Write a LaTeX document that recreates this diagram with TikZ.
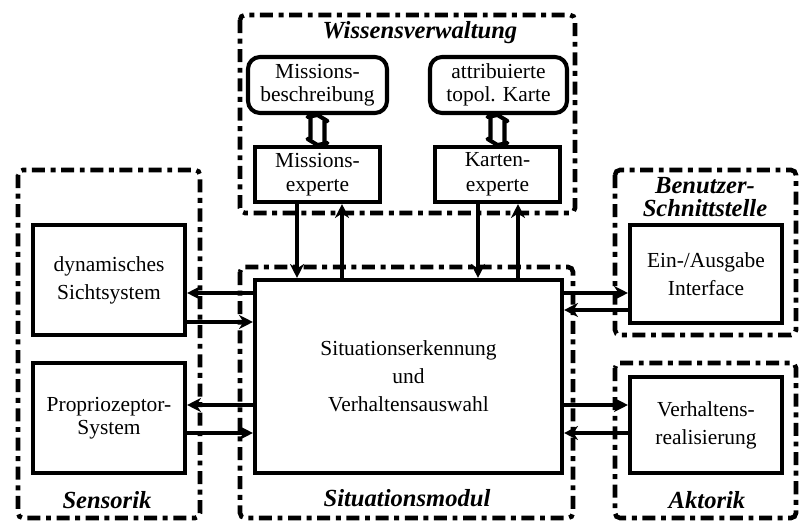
\documentclass[tikz,border=0pt]{standalone}
\usepackage{fontspec}
\setmainfont{Liberation Serif}
\usetikzlibrary{arrows.meta}
\begin{document}
\begin{tikzpicture}[x=0.2mm,y=-0.2mm,
  box/.style={draw, line width=2.3pt, align=center, inner sep=0pt, font=\fontsize{12.2}{15}\selectfont},
  rbox/.style={box, rounded corners=2.4mm},
  group/.style={draw, line width=2.6pt, rounded corners=1mm, dash pattern=on 7.4pt off 3.2pt on 2.8pt off 3.2pt},
  title/.style={font=\fontsize{14}{13}\selectfont\bfseries\itshape, align=center, inner sep=0pt},
  arr/.style={line width=2.3pt, -{Stealth[length=2.8mm,width=2.8mm,inset=0.9mm]}},
  dbl/.style={draw, line width=2.3pt, line join=round, fill=white}]

\useasboundingbox (0,0) rectangle (799,522);

% groups
\draw[group] (240,15) rectangle (575,213);
\draw[group] (18,170) rectangle (200,518);
\draw[group] (240,267) rectangle (573,518);
\draw[group] (615,170) rectangle (796,335);
\draw[group] (615,363) rectangle (796,518);

% titles
\node[title] (tw) at (420,33) {Wissensverwaltung};
\node[title] (ts) at (107,500) {Sensorik};
\node[title] (tm) at (407,498) {Situationsmodul};
\node[title] (ta) at (707,500) {Aktorik};
\node[title] (tb) at (705,197) {Benutzer-\\Schnittstelle};

% boxes
\node[rbox, minimum width=27.8mm, minimum height=11.2mm] (mb) at (317.5,85) {Missions-\\[-2pt]beschreibung};
\node[rbox, minimum width=27.4mm, minimum height=11.2mm] (ak) at (498.5,85) {attribuierte\\[-2pt]topol. Karte};
\node[box, minimum width=25mm, minimum height=11mm] (me) at (317.5,174.5) {Missions-\\[-1pt]experte};
\node[box, minimum width=25mm, minimum height=11mm] (ke) at (497.5,174.5) {Karten-\\[-1pt]experte};
\node[box, minimum width=30.4mm, minimum height=22mm] (sicht) at (109,280) {dynamisches\\[1pt]Sichtsystem};
\node[box, minimum width=30.4mm, minimum height=22mm] (prop) at (109,418) {Propriozeptor-\\[-2pt]System};
\node[box, minimum width=61.4mm, minimum height=38.6mm] (sit) at (408.5,376.5) {Situationserkennung\\[1pt]und\\[1pt]Verhaltensauswahl};
\node[box, minimum width=30.4mm, minimum height=19.6mm] (ein) at (706,274) {Ein-/Ausgabe\\[1pt]Interface};
\node[box, minimum width=30.4mm, minimum height=19.2mm] (verh) at (706,425) {Verhaltens-\\[1pt]realisierung};

% hollow double arrows
\draw[dbl] (mb.south) -- ++(10,6) -- ++(-3,0) -- ++(0,22) -- ++(3,0) -- (me.north)
  -- ++(-10,-6) -- ++(3,0) -- ++(0,-22) -- ++(-3,0) -- cycle;
\draw[dbl] (ke.north |- ak.south) -- ++(10,6) -- ++(-3,0) -- ++(0,22) -- ++(3,0) -- (ke.north)
  -- ++(-10,-6) -- ++(3,0) -- ++(0,-22) -- ++(-3,0) -- cycle;

% vertical connectors
\coordinate (v1) at (297,0);
\coordinate (v2) at (342,0);
\coordinate (v3) at (478,0);
\coordinate (v4) at (518,0);
\draw[arr] (v1 |- me.south) -- (v1 |- sit.north);
\draw[arr] (v2 |- sit.north) -- (v2 |- me.south);
\draw[arr] (v3 |- ke.south) -- (v3 |- sit.north);
\draw[arr] (v4 |- sit.north) -- (v4 |- ke.south);

% horizontal connectors
\coordinate (h1) at (0,293);
\coordinate (h2) at (0,322);
\coordinate (h3) at (0,405);
\coordinate (h4) at (0,433);
\coordinate (h5) at (0,310);
\draw[arr] (h1 -| sit.west) -- (h1 -| sicht.east);
\draw[arr] (h2 -| sicht.east) -- (h2 -| sit.west);
\draw[arr] (h3 -| sit.west) -- (h3 -| prop.east);
\draw[arr] (h4 -| prop.east) -- (h4 -| sit.west);
\draw[arr] (h1 -| sit.east) -- (h1 -| ein.west);
\draw[arr] (h5 -| ein.west) -- (h5 -| sit.east);
\draw[arr] (h3 -| sit.east) -- (h3 -| verh.west);
\draw[arr] (h4 -| verh.west) -- (h4 -| sit.east);
\end{tikzpicture}
\end{document}
